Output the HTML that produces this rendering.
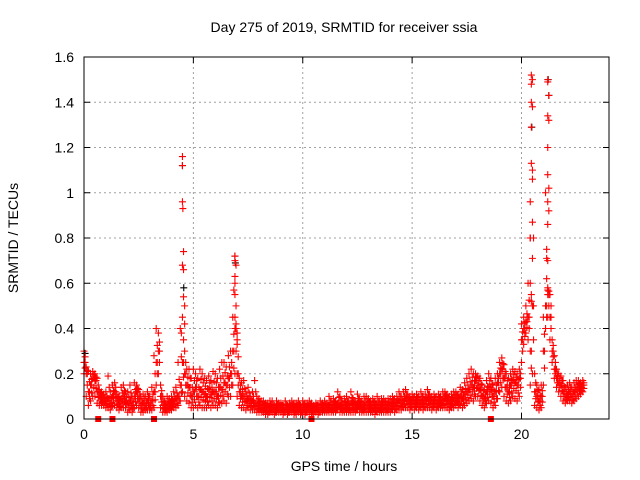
<!DOCTYPE html>
<html><head><meta charset="utf-8"><style>
body{margin:0;background:#fff}
svg{display:block;font-family:"Liberation Sans",sans-serif}
</style></head><body>
<svg id="chart" width="640" height="480" viewBox="0 0 640 480">
<text x="344" y="32" font-size="14" text-anchor="middle">Day 275 of 2019, SRMTID for receiver ssia</text>
<text x="344" y="471" font-size="14" text-anchor="middle">GPS time / hours</text>
<text transform="translate(18,238) rotate(-90)" font-size="14" text-anchor="middle">SRMTID / TECUs</text>
<g id="grid"></g><g id="ticks"></g><g id="marks"></g>
<rect x="84" y="57" width="525" height="362" fill="none" stroke="#000" stroke-width="1"/>
</svg>
<script>
const xTicks=[0,5,10,15,20];
const yTicks=[0,0.2,0.4,0.6,0.8,1,1.2,1.4,1.6];
const yTickLabels=["0","0.2","0.4","0.6","0.8","1","1.2","1.4","1.6"];
const startHour=0, stepHour=0.1;
const midVals=[.25,.2,.12,.15,.18,.17,.12,.1,.09,.08,.08,.09,.07,.1,.12,.08,.07,.09,.1,.08,.07,.08,.06,.1,.12,.09,.06,.07,.06,.08,.06,.08,.12,.25,.3,.1,.06,.05,.06,.06,.07,.08,.09,.1,.15,.25,.2,.15,.14,.1,.12,.14,.1,.13,.12,.11,.1,.13,.11,.12,.12,.1,.14,.13,.16,.15,.18,.2,.3,.4,.2,.12,.1,.1,.08,.09,.07,.08,.07,.06,.06,.05,.05,.05,.04,.05,.05,.04,.05,.05,.05,.04,.05,.04,.05,.05,.04,.05,.05,.04,.05,.04,.05,.05,.04,.05,.05,.04,.05,.05,.05,.05,.06,.05,.06,.05,.07,.06,.05,.06,.06,.05,.07,.06,.05,.07,.06,.05,.06,.06,.06,.05,.06,.05,.06,.05,.06,.06,.05,.06,.06,.07,.06,.07,.08,.07,.08,.09,.08,.07,.08,.07,.08,.07,.08,.07,.08,.09,.08,.07,.08,.07,.08,.07,.08,.09,.08,.07,.08,.09,.09,.08,.1,.09,.11,.12,.13,.15,.14,.17,.15,.13,.1,.09,.12,.14,.13,.1,.12,.16,.2,.22,.18,.14,.12,.15,.17,.16,.15,.18,.35,.4,.43,.45,.3,.5,.12,.1,.08,.1,.3,.5,.55,.45,.3,.22,.18,.16,.15,.12,.1,.11,.12,.1,.12,.13,.14,.14,.15];
const lowVals=[.2,.1,.06,.08,.1,.1,.07,.06,.06,.06,.05,.05,.04,.06,.06,.05,.04,.05,.05,.05,.03,.04,.03,.05,.06,.05,.03,.03,.04,.04,.04,.04,.05,.15,.2,.05,.03,.03,.03,.04,.04,.05,.05,.06,.08,.12,.1,.08,.07,.05,.05,.06,.05,.06,.05,.05,.05,.06,.05,.06,.06,.05,.07,.07,.08,.07,.1,.1,.15,.2,.1,.06,.05,.05,.04,.05,.04,.04,.04,.03,.03,.03,.03,.02,.02,.03,.03,.02,.03,.03,.03,.02,.03,.02,.03,.03,.02,.02,.03,.02,.03,.02,.03,.03,.02,.02,.03,.02,.03,.03,.03,.03,.03,.03,.03,.03,.04,.03,.03,.03,.03,.03,.03,.03,.03,.04,.03,.03,.03,.03,.03,.03,.03,.02,.03,.03,.03,.03,.03,.03,.03,.04,.03,.04,.04,.04,.05,.05,.05,.04,.05,.04,.05,.04,.05,.04,.05,.05,.05,.04,.05,.04,.05,.05,.05,.05,.05,.04,.05,.05,.06,.05,.06,.05,.06,.07,.08,.09,.08,.1,.1,.08,.06,.05,.07,.08,.07,.05,.06,.09,.12,.14,.1,.08,.07,.08,.1,.09,.08,.1,.25,.33,.38,.35,.15,.2,.06,.05,.04,.05,.15,.4,.45,.35,.25,.18,.14,.12,.1,.08,.07,.08,.08,.07,.08,.09,.1,.11,.12];
const highVals=[.3,.23,.21,.2,.21,.2,.18,.13,.12,.11,.12,.19,.12,.15,.16,.11,.1,.14,.15,.12,.12,.15,.1,.16,.15,.13,.1,.11,.1,.12,.1,.14,.28,.4,.38,.15,.1,.08,.1,.09,.1,.12,.14,.25,.4,.45,.3,.22,.22,.18,.22,.2,.18,.22,.2,.18,.17,.19,.17,.21,.2,.18,.22,.25,.25,.23,.28,.3,.45,.6,.35,.18,.16,.17,.12,.14,.1,.12,.17,.1,.09,.08,.08,.07,.07,.08,.08,.06,.08,.07,.07,.06,.08,.06,.07,.08,.07,.07,.08,.06,.08,.07,.07,.08,.07,.06,.07,.06,.08,.07,.08,.07,.1,.08,.09,.08,.12,.1,.08,.09,.1,.08,.12,.09,.08,.11,.09,.08,.1,.1,.09,.08,.09,.08,.1,.08,.09,.09,.08,.09,.09,.1,.09,.1,.12,.1,.12,.13,.11,.1,.11,.1,.11,.1,.12,.1,.11,.13,.11,.1,.11,.1,.11,.1,.12,.12,.11,.1,.11,.12,.12,.11,.14,.13,.16,.18,.2,.22,.2,.2,.19,.18,.15,.13,.17,.2,.18,.15,.18,.2,.25,.27,.24,.2,.18,.2,.22,.21,.2,.22,.42,.45,.5,.6,.8,1.1,.2,.15,.13,.15,.45,1.0,.58,.55,.35,.28,.22,.2,.19,.17,.14,.15,.16,.14,.16,.17,.17,.16,.17];
const spikeHours=[4.5,4.5,4.5,4.52,4.55,4.5,4.55,4.55,4.6,4.6,4.45,6.9,6.9,6.95,6.9,6.85,6.9,6.9,6.95,7,7,20.45,20.5,20.45,20.45,20.5,20.45,20.45,20.5,20.4,20.5,20.4,20.5,20.4,20.45,21.2,21.2,21.25,21.2,21.25,21.2,21.2,21.25,21.2,21.25,21.2,21.15,21.2,21.15,21.2];
const spikeVals=[1.16,1.12,.96,.93,.74,.68,.66,.54,.5,.42,.38,.72,.7,.68,.63,.57,.55,.45,.42,.38,.33,1.52,1.5,1.48,1.4,1.38,1.29,1.13,1.06,.96,.87,.8,.71,.6,.52,1.5,1.49,1.43,1.34,1.32,1.2,1.08,1.02,.96,.92,.86,.71,.7,.62,.57];
const blackHours=[0.05,4.5,4.56,6.9,6.92,20.47,21.22,21.25];
const blackVals=[.29,1.12,.58,.72,.69,1.29,1.5,1.43];
const flagHours=[0.65,1.3,3.2,10.4,18.6];

const X0=84,X1=609,Y0=419,Y1=57,XMAX=24,YMAX=1.6;
const sx=v=>X0+(v/XMAX)*(X1-X0);
const sy=v=>Y0-(v/YMAX)*(Y0-Y1);
const NS="http://www.w3.org/2000/svg";
function mk(tag,parent,attrs){const e=document.createElementNS(NS,tag);for(const k in attrs)e.setAttribute(k,attrs[k]);parent.appendChild(e);return e;}
const grid=document.getElementById('grid'),ticks=document.getElementById('ticks'),marks=document.getElementById('marks');
xTicks.forEach(t=>{const x=sx(t);
 if(t>0){const g=mk('line',grid,{x1:x,x2:x,y1:Y1,y2:Y0,stroke:'#a0a0a0','stroke-dasharray':'2,3'});
 
 }
 const a=mk('line',ticks,{x1:x,x2:x,y1:Y0,y2:Y0-6,stroke:'#000'});
 
 
 const b=mk('line',ticks,{x1:x,x2:x,y1:Y1,y2:Y1+6,stroke:'#000'});
 
 
 const l=mk('text',ticks,{x:x,y:Y0+20,'font-size':14,'text-anchor':'middle'});l.textContent=String(t);
 
 
});
yTicks.forEach((t,i)=>{const y=sy(t);
 if(t>0&&t<YMAX){const g=mk('line',grid,{x1:X0,x2:X1,y1:y,y2:y,stroke:'#a0a0a0','stroke-dasharray':'2,3'});
 
 }
 const a=mk('line',ticks,{x1:X0,x2:X0+6,y1:y,y2:y,stroke:'#000'});
 
 
 const b=mk('line',ticks,{x1:X1,x2:X1-6,y1:y,y2:y,stroke:'#000'});
 
 
 const l=mk('text',ticks,{x:X0-10,y:y+5,'font-size':14,'text-anchor':'end'});l.textContent=yTickLabels[i];
 
 
});
function plus(h,v,color,name){const x=sx(h),y=sy(v);
 const p=mk('path',marks,{d:`M${x-3.5},${y}H${x+3.5}M${x},${y-3.5}V${y+3.5}`,stroke:color,'stroke-width':1.1,fill:'none'});
 
 }
blackHours.forEach((h,i)=>plus(h,blackVals[i],'#000000','srmtid-black-point'));
[lowVals,midVals,highVals].forEach(arr=>arr.forEach((v,i)=>{
 const h=startHour+i*stepHour;
 plus(h,v,'#ff0000','srmtid-point');
 plus(h+0.05,(v+midVals[i])/2,'#ff0000','srmtid-point');
}));
spikeHours.forEach((h,i)=>plus(h,spikeVals[i],'#ff0000','srmtid-spike-point'));
flagHours.forEach(h=>{const r=mk('rect',marks,{x:sx(h)-3,y:Y0-3,width:6,height:6,fill:'#ff0000'});
 
 });
</script>
</body></html>
